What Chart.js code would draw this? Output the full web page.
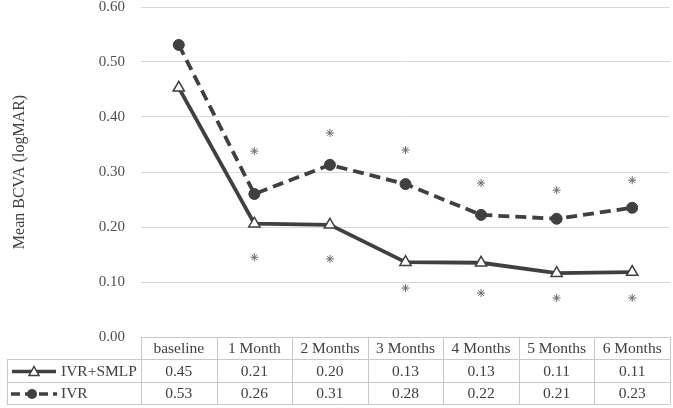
<!DOCTYPE html>
<html>
<head>
<meta charset="utf-8">
<script src="https://cdn.jsdelivr.net/npm/chart.js@4/dist/chart.umd.min.js"></script>
<style>
html,body{margin:0;padding:0;background:#fff;}
#wrap{width:673px;height:408px;position:relative;}
</style>
</head>
<body>
<div id="wrap"><canvas id="c" width="673" height="408"></canvas></div>
<script>
const categories = ["baseline","1 Month","2 Months","3 Months","4 Months","5 Months","6 Months"];
const seriesNames = ["IVR+SMLP","IVR"];
const ivrSmlp = [0.453, 0.206, 0.204, 0.136, 0.135, 0.116, 0.118];
const ivr = [0.531, 0.260, 0.313, 0.278, 0.222, 0.215, 0.235];
const ivrSmlpTable = ["0.45","0.21","0.20","0.13","0.13","0.11","0.11"];
const ivrTable = ["0.53","0.26","0.31","0.28","0.22","0.21","0.23"];
const starsAbove = [null, 0.338, 0.371, 0.340, 0.280, 0.267, 0.285];
const starsBelow = [null, 0.145, 0.142, 0.089, 0.080, 0.071, 0.071];
const yTicks = [0, 0.1, 0.2, 0.3, 0.4, 0.5, 0.6];

const FONT = '"Liberation Serif", "Times New Roman", serif';
const DARK = '#404040';

const tablePlugin = {
  id: 'dataTable',
  afterDraw(chart) {
    const ctx = chart.ctx;
    const a = chart.chartArea;
    const xs = chart.scales.x;
    const n = categories.length;
    const colW = (a.right - a.left) / n;
    const top = a.bottom, r1 = top + 22, r2 = r1 + 23, r3 = r2 + 22;
    const leftEdge = 7;
    ctx.save();
    ctx.strokeStyle = '#c8c8c8';
    ctx.lineWidth = 1;
    const ln = (x1, y1, x2, y2) => { ctx.beginPath(); ctx.moveTo(x1, y1); ctx.lineTo(x2, y2); ctx.stroke(); };
    ln(a.left, top + 0.5, a.right, top + 0.5);
    [r1, r2, r3].forEach(y => ln(leftEdge, y + 0.5, a.right, y + 0.5));
    for (let i = 0; i <= n; i++) {
      const x = Math.round(a.left + i * colW) + 0.5;
      ln(x, top, x, r3);
    }
    ln(leftEdge + 0.5, r1, leftEdge + 0.5, r3);

    ctx.fillStyle = DARK;
    ctx.font = '15.5px ' + FONT;
    ctx.textAlign = 'center';
    ctx.textBaseline = 'middle';
    for (let i = 0; i < n; i++) {
      const x = xs.getPixelForValue(i);
      ctx.fillText(categories[i], x, (top + r1) / 2 + 1);
      ctx.fillText(ivrSmlpTable[i], x, (r1 + r2) / 2 + 1);
      ctx.fillText(ivrTable[i], x, (r2 + r3) / 2 + 1);
    }
    ctx.textAlign = 'left';
    ctx.fillText(seriesNames[0], 61, (r1 + r2) / 2 + 1);
    ctx.fillText(seriesNames[1], 61, (r2 + r3) / 2 + 1);
    const y1 = (r1 + r2) / 2 + 1, y2 = (r2 + r3) / 2 + 1;
    ctx.strokeStyle = DARK;
    ctx.lineWidth = 3.5;
    ln(12, y1, 56, y1);
    ctx.setLineDash([9, 5]);
    ln(11, y2, 57, y2);
    ctx.setLineDash([]);
    ctx.fillStyle = '#fff';
    ctx.lineWidth = 1.5;
    ctx.beginPath();
    ctx.moveTo(34, y1 - 5); ctx.lineTo(39, y1 + 4); ctx.lineTo(29, y1 + 4); ctx.closePath();
    ctx.fill(); ctx.stroke();
    ctx.fillStyle = DARK;
    ctx.beginPath(); ctx.arc(32, y2, 5, 0, Math.PI * 2); ctx.fill();
    ctx.restore();
  }
};

new Chart(document.getElementById('c'), {
  type: 'line',
  data: {
    labels: categories,
    datasets: [
      {
        label: seriesNames[0], data: ivrSmlp,
        borderColor: DARK, borderWidth: 3.8, tension: 0,
        pointStyle: 'triangle', pointRadius: 6.5, pointBackgroundColor: '#fff',
        pointBorderColor: DARK, pointBorderWidth: 1.5
      },
      {
        label: seriesNames[1], data: ivr,
        borderColor: DARK, borderWidth: 3.8, borderDash: [11, 6], tension: 0,
        pointStyle: 'circle', pointRadius: 5.5, pointBackgroundColor: DARK,
        pointBorderColor: DARK, pointBorderWidth: 1
      },
      {
        label: 'sigAbove', data: starsAbove, showLine: false,
        pointStyle: 'star', pointRadius: 4, pointBorderColor: '#6a6a6a', pointBorderWidth: 1
      },
      {
        label: 'sigBelow', data: starsBelow, showLine: false,
        pointStyle: 'star', pointRadius: 4, pointBorderColor: '#6a6a6a', pointBorderWidth: 1
      }
    ]
  },
  options: {
    responsive: false,
    animation: false,
    events: [],
    layout: { autoPadding: false, padding: { top: 7, bottom: 71, left: 0, right: 3 } },
    plugins: { legend: { display: false }, tooltip: { enabled: false } },
    scales: {
      x: { type: 'category', offset: true, display: false },
      y: {
        min: 0, max: 0.6,
        afterBuildTicks(s) { s.ticks = yTicks.map(v => ({ value: v })); },
        afterFit(s) { s.width = 141; s.paddingTop = 0; s.paddingBottom = 0; },
        border: { display: false },
        grid: { color: '#d9d9d9', drawTicks: false, lineWidth: 1 },
        ticks: {
          padding: 16, color: '#505050',
          font: { family: FONT, size: 15 },
          callback: v => Number(v).toFixed(2)
        },
        title: {
          display: true, text: 'Mean BCVA (logMAR)', color: '#404040',
          font: { family: FONT, size: 16 }, padding: { top: 10, bottom: 0 }
        }
      }
    }
  },
  plugins: [tablePlugin]
});
</script>
</body>
</html>
